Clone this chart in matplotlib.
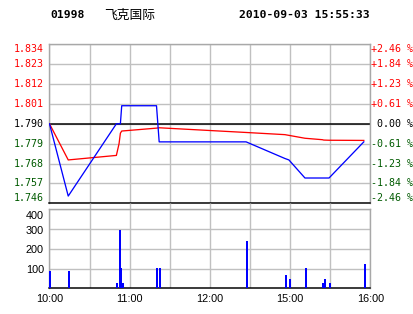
import matplotlib
matplotlib.use("Agg")
import matplotlib.pyplot as plt
from matplotlib.transforms import offset_copy

# ---- data ----
price_times = ["10:00", "10:14", "10:50", "10:52", "10:53", "10:54", "11:20", "11:22",
               "12:27", "14:56", "14:59", "15:11", "15:24", "15:25", "15:29", "15:55"]
price_vals = [1.790, 1.750, 1.790, 1.790, 1.790, 1.800, 1.800, 1.780,
              1.780, 1.7708, 1.770, 1.760, 1.760, 1.760, 1.760, 1.780]
avg_vals = [1.790, 1.770, 1.7725, 1.7790, 1.7848, 1.7860, 1.7876, 1.7878,
            1.7852, 1.7840, 1.7836, 1.7820, 1.7812, 1.7810, 1.7809, 1.7808]
vol_times = ["10:00", "10:14", "10:50", "10:52", "10:53", "10:54", "11:20", "11:22",
             "12:27", "14:56", "14:59", "15:11", "15:24", "15:25", "15:29", "15:55"]
vol_vals = [90, 90, 28, 296, 102, 28, 102, 102, 240, 66, 47, 102, 28, 47, 28, 124]

price_ticks = [1.834, 1.823, 1.812, 1.801, 1.790, 1.779, 1.768, 1.757, 1.746]
pct_labels = ["+2.46 %", "+1.84 %", "+1.23 %", "+0.61 %", " 0.00 %",
              "-0.61 %", "-1.23 %", "-1.84 %", "-2.46 %"]
time_ticks = ["10:00", "11:00", "12:00", "15:00", "16:00"]
vol_ticks = [100, 200, 300, 400]
base_price = 1.790
stock_code = "01998"
stock_name = "飞克国际"
stamp = "2010-09-03 15:55:33"


def to_min(s):
    h, m = map(int, s.split(":"))
    t = h * 60 + m
    return t - 600 if t <= 750 else t - 870 + 150


W, H = 414, 314
fig = plt.figure(figsize=(W / 100, H / 100), dpi=100)
fig.patch.set_facecolor("white")


def fr(l, t, r, b):
    return [l / W, 1 - b / H, (r - l) / W, (b - t) / H]


ax = fig.add_axes(fr(49.5, 44.3, 370.5, 203.3))
axv = fig.add_axes(fr(49.5, 209.3, 370.5, 288.3))

GRID = "#c0c0c0"
SPINE = "#a8a8a8"
RED = "#ff0000"
GREEN = "#005a00"
BLUE = "#0000ff"
px = 0.72

xs_p = [to_min(t) for t in price_times]
xs_v = [to_min(t) for t in vol_times]

# main panel
ax.set_xlim(0, 240)
ax.set_ylim(price_ticks[-1], price_ticks[0])
ax.set_xticks(range(0, 241, 30))
ax.set_yticks(price_ticks)
ax.grid(True, color=GRID, lw=1.4 * px)
ax.tick_params(length=0, labelleft=False, labelbottom=False)
for s in ["top", "left", "right"]:
    ax.spines[s].set_color(SPINE)
    ax.spines[s].set_linewidth(1.4 * px)
ax.spines["bottom"].set_color("black")
ax.spines["bottom"].set_linewidth(1.5 * px)
ax.spines["bottom"].set_zorder(5)
ax.axhline(base_price, color="black", lw=1.5 * px, zorder=2)
ax.plot(xs_p, avg_vals, color=RED, lw=1.3 * px, zorder=3)
ax.plot(xs_p, price_vals, color=BLUE, lw=1.3 * px, zorder=4)

mono = dict(family="DejaVu Sans Mono", fontsize=7.2)
tl = offset_copy(ax.get_yaxis_transform(), fig=fig, x=-5.5, y=0, units="dots")
tr = offset_copy(ax.get_yaxis_transform(), fig=fig, x=1.0, y=0, units="dots")
n = len(price_ticks)
for i, (v, p) in enumerate(zip(price_ticks, pct_labels)):
    if abs(v - base_price) < 1e-9:
        c = "black"
    elif v > base_price:
        c = RED
    else:
        c = GREEN
    va = "top" if i == 0 else ("bottom" if i == n - 1 else "center")
    ax.text(0, v, f"{v:.3f}", transform=tl, ha="right", va=va, color=c, **mono)
    ax.text(1, v, p, transform=tr, ha="left", va=va, color=c, **mono)

# volume panel
axv.set_xlim(0, 240)
axv.set_ylim(0, 400)
axv.set_xticks(range(0, 241, 30))
axv.set_yticks(vol_ticks)
axv.grid(True, color=GRID, lw=1.4 * px)
axv.tick_params(length=0, labelleft=False, labelbottom=False)
for s in ["top", "left", "right"]:
    axv.spines[s].set_color(SPINE)
    axv.spines[s].set_linewidth(1.4 * px)
axv.spines["bottom"].set_color("black")
axv.spines["bottom"].set_linewidth(1.5 * px)
axv.bar(xs_v, vol_vals, width=1.4, align="edge", color=BLUE, zorder=3)
# grid continuation through the gap between panels
axv.vlines(range(30, 240, 30), 400, 430, color=GRID, lw=1.4 * px, clip_on=False, zorder=0)

sans = dict(family="Liberation Sans", fontsize=7.8)
tv = offset_copy(axv.get_yaxis_transform(), fig=fig, x=-5.5, y=-1.5, units="dots")
for v in vol_ticks:
    va = "top" if v == vol_ticks[-1] else "center"
    axv.text(0, v, str(v), transform=tv, ha="right", va=va, color="black", **sans)
tx = offset_copy(axv.get_xaxis_transform(), fig=fig, x=0, y=-5.5, units="dots")
for lab in time_ticks:
    axv.text(to_min(lab), 0, lab, transform=tx, ha="center", va="top", color="black", **sans)

# header
fig.text(50 / W, 1 - 15.5 / H, stock_code, ha="left", va="center",
         family="DejaVu Sans Mono", fontweight="bold", fontsize=8.2)
fig.text(104 / W, 1 - 15 / H, stock_name, ha="left", va="center",
         family=["Noto Sans CJK SC", "DejaVu Sans"], fontsize=9.2)
fig.text(370 / W, 1 - 15.5 / H, stamp, ha="right", va="center",
         family="DejaVu Sans Mono", fontweight="bold", fontsize=8.2)

fig.savefig("out.png", dpi=100, facecolor="white")
